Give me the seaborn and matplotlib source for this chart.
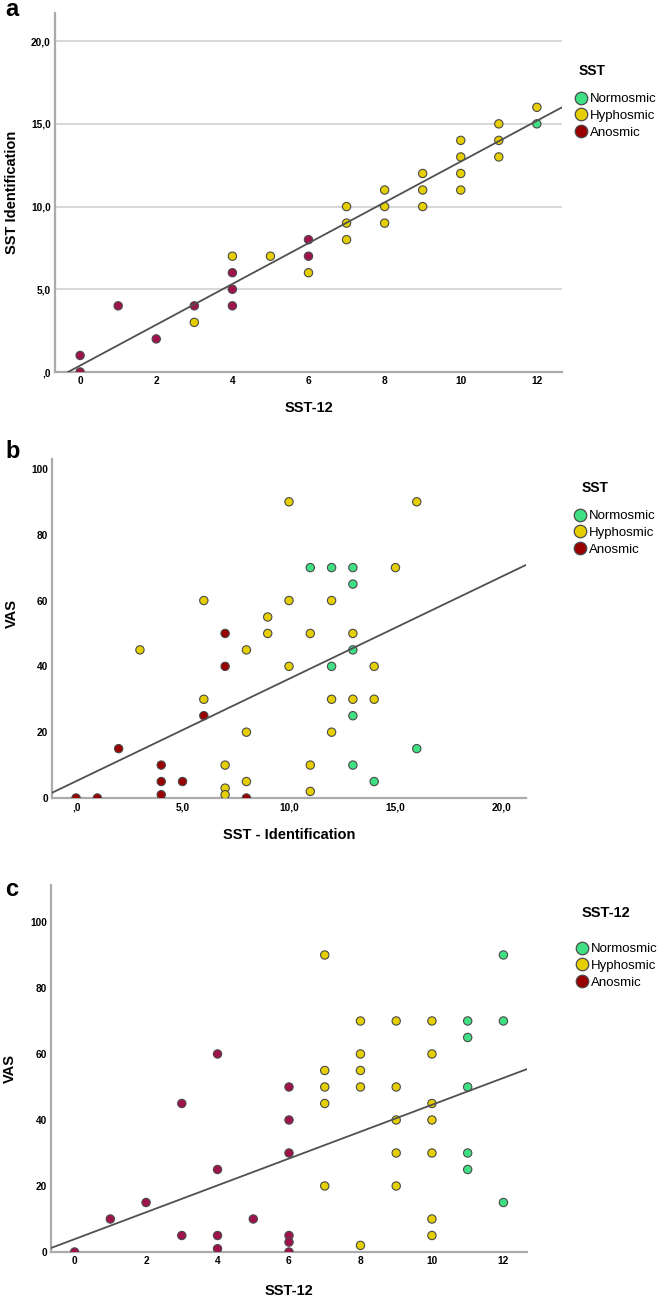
import numpy as np
import pandas as pd
import matplotlib
matplotlib.use("Agg")
import matplotlib.pyplot as plt
import seaborn as sns
from matplotlib.lines import Line2D

sns.set_theme(style="white")
plt.rcParams["font.family"] = ["Liberation Sans", "DejaVu Sans"]
plt.rcParams["text.color"] = "black"
plt.rcParams["axes.labelcolor"] = "black"
plt.rcParams["xtick.color"] = "black"
plt.rcParams["ytick.color"] = "black"

# ---------------- data ----------------
group_names = {"N": "Normosmic", "H": "Hyphosmic", "A": "Anosmic"}
legend_labels = ["Normosmic", "Hyphosmic", "Anosmic"]

# Panel a : SST-12 vs SST Identification
a_sst12 = [0, 0, 1, 2, 3, 3, 4, 4, 4, 4, 5, 6, 6, 6, 7, 7, 7, 8, 8, 8, 9, 9, 9,
           10, 10, 10, 10, 11, 11, 11, 12, 12]
a_sstid = [1, 0, 4, 2, 4, 3, 7, 6, 5, 4, 7, 8, 7, 6, 10, 9, 8, 11, 10, 9, 12, 11, 10,
           14, 13, 12, 11, 15, 14, 13, 16, 15]
a_group = list("AAAAAHHAAAHAAHHHHHHHHHHHHHHHHHHN")
a_fit = (0.39, 1.233)          # intercept, slope

# Panel b : SST - Identification vs VAS
b_sstid = [10, 16, 11, 12, 13, 15, 13, 6, 10, 12, 9, 7, 9, 11, 13, 3, 8, 13, 7, 10, 12, 14,
           6, 12, 13, 14, 6, 13, 8, 12, 2, 16, 4, 7, 11, 13, 4, 5, 8, 14, 7, 11, 4, 7, 0, 1, 8]
b_vas = [90, 90, 70, 70, 70, 70, 65, 60, 60, 60, 55, 50, 50, 50, 50, 45, 45, 45, 40, 40, 40, 40,
         30, 30, 30, 30, 25, 25, 20, 20, 15, 15, 10, 10, 10, 10, 5, 5, 5, 5, 3, 2, 1, 1, 0, 0, 0]
b_group = list("HHNNNHNHHHHAHHHHHNAHNHHHHHANHHANAHHNAAHNHHAHAAA")
b_fit = (5.1, 3.11)

# Panel c : SST-12 vs VAS
c_sst12 = [7, 12, 8, 9, 10, 11, 12, 11, 4, 8, 10, 7, 8, 6, 7, 8, 9, 11, 3, 7, 10, 6, 9, 10,
           6, 9, 10, 11, 4, 11, 7, 9, 2, 12, 1, 5, 10, 3, 4, 6, 10, 6, 8, 4, 0, 6]
c_vas = [90, 90, 70, 70, 70, 70, 70, 65, 60, 60, 60, 55, 55, 50, 50, 50, 50, 50, 45, 45, 45, 40, 40, 40,
         30, 30, 30, 30, 25, 25, 20, 20, 15, 15, 10, 10, 10, 5, 5, 5, 5, 3, 2, 1, 0, 0]
c_group = list("HNHHHNNNAHHHHAHHHNAHHAHHAHHNANHHANAAHAAAHAHAAA")
c_fit = (3.9, 4.07)

# ---------------- styling ----------------
GREEN = "#3fe083"
YELLOW = "#e6cf00"
DARKRED = "#990000"
CRIMSON = "#a0124c"
EDGE = "#4a4a4a"
SPINE = "#ababab"
GRID = "#d9d9d9"

W, H = 661, 1299
fig = plt.figure(figsize=(W / 100, H / 100), dpi=100)


def px_axes(left, top, right, bottom):
    return fig.add_axes([left / W, 1 - bottom / H, (right - left) / W, (bottom - top) / H])


def style_axes(ax):
    for s in ["top", "right"]:
        ax.spines[s].set_visible(False)
    for s in ["left", "bottom"]:
        ax.spines[s].set_color(SPINE)
        ax.spines[s].set_linewidth(1.6)
    ax.tick_params(length=0, pad=3, colors="black")
    ax.set_facecolor("white")


def scatter(ax, x, y, g, anos_color, xname, yname):
    df = pd.DataFrame({xname: x, yname: y, "grp": [group_names[k] for k in g]})
    pal = {"Normosmic": GREEN, "Hyphosmic": YELLOW, "Anosmic": anos_color}
    sns.scatterplot(data=df, x=xname, y=yname, hue="grp", palette=pal,
                    hue_order=["Anosmic", "Hyphosmic", "Normosmic"],
                    s=36, edgecolor=EDGE, linewidth=0.8, legend=False, ax=ax, zorder=3)


def fit_line(ax, fit):
    xs = np.array(ax.get_xlim())
    ax.plot(xs, fit[0] + fit[1] * xs, color="#505050", lw=1.3, zorder=4)


def labels(ax, xl, yl, ax_px, xlab_off, ylab_x, ylab_y=None):
    left, top, right, bottom = ax_px
    ax.set_xlabel(xl, fontsize=10.5, fontweight="bold", color="black")
    ax.set_ylabel(yl, fontsize=10.5, fontweight="bold", color="black")
    ax.xaxis.set_label_coords(0.5, -xlab_off / (bottom - top))
    ax.xaxis.label.set_va("center")
    if ylab_y is None:
        ylab_y = (top + bottom) / 2
    ax.yaxis.set_label_coords((ylab_x - left) / (right - left), (bottom - ylab_y) / (bottom - top))
    ax.yaxis.label.set_va("center")
    ax.yaxis.label.set_ha("center")


def legend(title, title_x, title_y, title_size, top_y, left_x, anos_color):
    fig.text(title_x / W, 1 - title_y / H, title, fontsize=title_size, fontweight="bold",
             ha="left", va="center", color="black")
    cols = [GREEN, YELLOW, anos_color]
    handles = [Line2D([], [], marker="o", ls="none", markersize=9, markerfacecolor=c,
                      markeredgecolor=EDGE, markeredgewidth=0.9) for c in cols]
    fig.legend(handles, legend_labels, loc="upper left",
               bbox_to_anchor=(left_x / W, 1 - top_y / H), frameon=False,
               fontsize=9.5, borderpad=0, borderaxespad=0, handlelength=0.8,
               handletextpad=0.25, labelspacing=0.34, labelcolor="black")


tick_kw = dict(fontsize=7.3, fontweight="bold", color="black")

# ---------------- panel a ----------------
pa = (55, 13, 562, 372)
ax = px_axes(*pa)
style_axes(ax)
ax.set_xlim(-0.66, 12.66)
ax.set_ylim(0, 21.7)
ax.set_yticks([0, 5, 10, 15, 20], [",0", "5,0", "10,0", "15,0", "20,0"], **tick_kw)
ax.set_xticks(range(0, 13, 2), [str(v) for v in range(0, 13, 2)], **tick_kw)
ax.yaxis.grid(True, color=GRID, lw=1.5, zorder=0)
ax.set_axisbelow(True)
scatter(ax, a_sst12, a_sstid, a_group, CRIMSON, "SST-12", "SST Identification")
fit_line(ax, a_fit)
labels(ax, "SST-12", "SST Identification", pa, 36, 12)
fig.text(5 / W, 1 - 10 / H, "a", fontsize=17, fontweight="bold", ha="left", va="center")
legend("SST", 579, 71, 10, 93, 576, DARKRED)

# ---------------- panel b ----------------
pb = (52, 459, 526, 798)
ax = px_axes(*pb)
style_axes(ax)
ax.set_xlim(-1.13, 21.13)
ax.set_ylim(0, 103)
ax.set_yticks(range(0, 101, 20), [str(v) for v in range(0, 101, 20)], **tick_kw)
ax.set_xticks([0, 5, 10, 15, 20], [",0", "5,0", "10,0", "15,0", "20,0"], **tick_kw)
scatter(ax, b_sstid, b_vas, b_group, DARKRED, "SST - Identification", "VAS")
fit_line(ax, b_fit)
labels(ax, "SST - Identification", "VAS", pb, 37, 11.5, 614)
fig.text(5 / W, 1 - 452 / H, "b", fontsize=17, fontweight="bold", ha="left", va="center")
legend("SST", 582, 488, 10, 510, 575, DARKRED)

# ---------------- panel c ----------------
pc = (51, 885, 527, 1252)
ax = px_axes(*pc)
style_axes(ax)
ax.set_xlim(-0.66, 12.66)
ax.set_ylim(0, 111.2)
ax.set_yticks(range(0, 101, 20), [str(v) for v in range(0, 101, 20)], **tick_kw)
ax.set_xticks(range(0, 13, 2), [str(v) for v in range(0, 13, 2)], **tick_kw)
scatter(ax, c_sst12, c_vas, c_group, CRIMSON, "SST-12", "VAS")
fit_line(ax, c_fit)
labels(ax, "SST-12", "VAS", pc, 39, 10)
fig.text(5 / W, 1 - 890 / H, "c", fontsize=17, fontweight="bold", ha="left", va="center")
legend("SST-12", 582, 913, 10.5, 943, 577, DARKRED)

fig.savefig("out.png", dpi=100, facecolor="white")
